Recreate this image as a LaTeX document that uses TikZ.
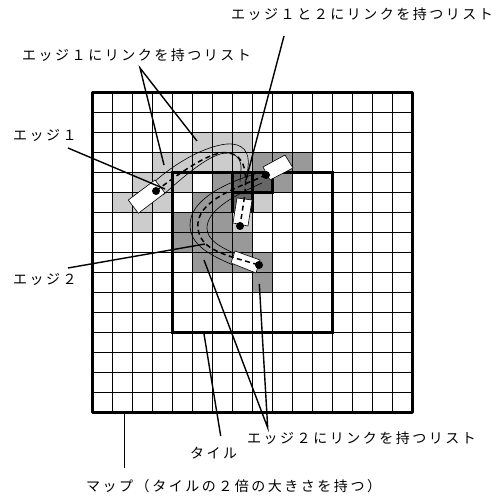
\documentclass[tikz,border=0pt]{standalone}
\usepackage{fontspec}
\usepackage{xcolor}
\newfontfamily\jpfont[LetterSpace=18]{Noto Sans CJK JP}
\usetikzlibrary{
  arrows.meta,
  calc,
  positioning
}
\definecolor{ink}{HTML}{000000}
\definecolor{listone}{HTML}{CCCCCC}
\definecolor{listtwo}{HTML}{999999}
\definecolor{listboth}{HTML}{666666}
\tikzset{
  every node/.style={font=\jpfont\fontsize{14}{16}\selectfont, text=ink, inner sep=0pt},
  gridline/.style={draw=ink, line width=0.9pt},
  mapframe/.style={draw=ink, line width=3.6pt, line join=round},
  tileframe/.style={draw=ink, line width=3pt},
  bothframe/.style={draw=ink, line width=2.6pt},
  outline/.style={draw=ink, line width=0.6pt},
  edgepath/.style={draw=ink, line width=1.5pt, dash pattern=on 5pt off 3.5pt},
  carbox/.style={draw=ink, fill=white, line width=0.6pt},
  carpoint/.style={circle, fill=ink, minimum size=8pt},
  leader/.style={draw=ink, line width=1.4pt},
}

\begin{document}
\begin{tikzpicture}[x=1pt, y=-1pt]
  \useasboundingbox (0,0) rectangle (501,497);

  % Cells linked to the edges
  \foreach \c/\r in {5/2,6/2,7/2,3/3,4/3,5/3,6/3,7/3,2/4,3/4,4/4,1/5,2/5,3/5,8/5,2/6,7/6}
    \fill[listone] ({92.5+\c*20},{92.5+\r*20}) rectangle ++(20,20);
  \foreach \c/\r in {8/3,9/3,10/3,6/4,9/4,5/5,6/5,4/6,5/6,6/6,4/7,5/7,6/7,7/7,5/8,6/8,7/8,8/8,8/9}
    \fill[listtwo] ({92.5+\c*20},{92.5+\r*20}) rectangle ++(20,20);
  \foreach \c/\r in {7/4,8/4,7/5}
    \fill[listboth] ({92.5+\c*20},{92.5+\r*20}) rectangle ++(20,20);

  % Grid
  \foreach \k in {1,...,15} {
    \draw[gridline] ({92.5+\k*20},92.5) -- ({92.5+\k*20},412.5);
    \draw[gridline] (92.5,{92.5+\k*20}) -- (412.5,{92.5+\k*20});
  }

  % Tile, map
  \draw[tileframe] (172.5,172.5) rectangle (332.5,332.5);
  \draw[mapframe] (92.5,92.5) rectangle (412.5,412.5);
  \draw[bothframe] (232.5,212.5) -- (232.5,172.5) -- (272.5,172.5) -- (272.5,192.5) -- (232.5,192.5);
  \draw[bothframe] (252.5,172.5) -- (252.5,212.5);

  % Outlines round the edges
  \draw[outline] (153,183) .. controls (175,163) and (205,146) .. (227,144)
    .. controls (243,143) and (250,152) .. (248,167) -- (247,178);
  \draw[outline] (163,195) .. controls (182,178) and (208,155) .. (225,153)
    .. controls (236,152) and (242,160) .. (241,170) -- (240,182);
  \draw[outline] (262,172) .. controls (225,182) and (190,200) .. (190,225)
    .. controls (190,245) and (210,255) .. (233,265);
  \draw[outline] (262,183) .. controls (235,195) and (207,210) .. (207,228)
    .. controls (207,240) and (220,247) .. (238,255);

  % Cars
  \draw[carbox] (128.3,200) -- (138.3,213.3) -- (165,193) -- (155,180) -- cycle;
  \draw[carbox] (285,155) -- (293,168) -- (270,180) -- (263,167) -- cycle;
  \draw[carbox] (237,198) -- (252,200) -- (248,226) -- (233,223) -- cycle;
  \draw[carbox] (235,251) -- (260,260) -- (256,273) -- (231,263) -- cycle;

  % Edge ends
  \node[carpoint] (edgeAstart) at (156,191) {};
  \node[carpoint] (edgeAend) at (240,226) {};
  \node[carpoint] (edgeBstart) at (266,175) {};
  \node[carpoint] (edgeBend) at (259,265) {};

  % Edges
  \draw[edgepath] (edgeAstart.center) .. controls (190,165) and (215,150) .. (228,153)
    .. controls (245,155) and (248,172) .. (244,200) -- (edgeAend.center);
  \draw[edgepath] (edgeBstart.center) .. controls (240,187) and (195,200) .. (198,228)
    .. controls (200,250) and (225,255) .. (edgeBend.center);

  % Labels
  \node[anchor=west] (listAlabel) at (22,55) {エッジ１にリンクを持つリスト};
  \node[anchor=west] (listBothlabel) at (231,14) {エッジ１と２にリンクを持つリスト};
  \node[anchor=west] (edgeAlabel) at (13,135) {エッジ１};
  \node[anchor=west] (edgeBlabel) at (13,279) {エッジ２};
  \node[anchor=west] (tilelabel) at (190,453) {タイル};
  \node[anchor=west] (listBlabel) at (247,438) {エッジ２にリンクを持つリスト};
  \node[anchor=west] (maplabel) at (86,486) {マップ（タイルの２倍の大きさを持つ）};

  % Leader ends
  \coordinate (listAapex) at (140,68);
  \coordinate (listAcellone) at (164,165);
  \coordinate (listAcelltwo) at (197,141);
  \coordinate (listBothtop) at (284,36);
  \coordinate (listBothcell) at (246,180);
  \coordinate (edgeAfrom) at (68,148);
  \coordinate (edgeAto) at (165,189);
  \coordinate (edgeBfrom) at (68,268);
  \coordinate (edgeBto) at (205,244);
  \coordinate (tileapex) at (220.7,436);
  \coordinate (tileto) at (204,334);
  \coordinate (listBapex) at (267.7,427.7);
  \coordinate (listBcellone) at (204,260);
  \coordinate (listBcelltwo) at (259.3,284);
  \coordinate (mapfoot) at (124.3,468);
  \coordinate (maptop) at (124.3,412.5);

  % Leaders
  \draw[leader] (listAcellone) -- (listAapex) -- (listAcelltwo);
  \draw[leader] (listBothtop) -- (listBothcell);
  \draw[leader] (edgeAfrom) -- (edgeAto);
  \draw[leader] (edgeBfrom) -- (edgeBto);
  \draw[leader] (tileapex) -- (tileto);
  \draw[leader] (listBcellone) -- (listBapex) -- (listBcelltwo);
  \draw[leader] (mapfoot) -- (maptop);

\end{tikzpicture}
\end{document}
